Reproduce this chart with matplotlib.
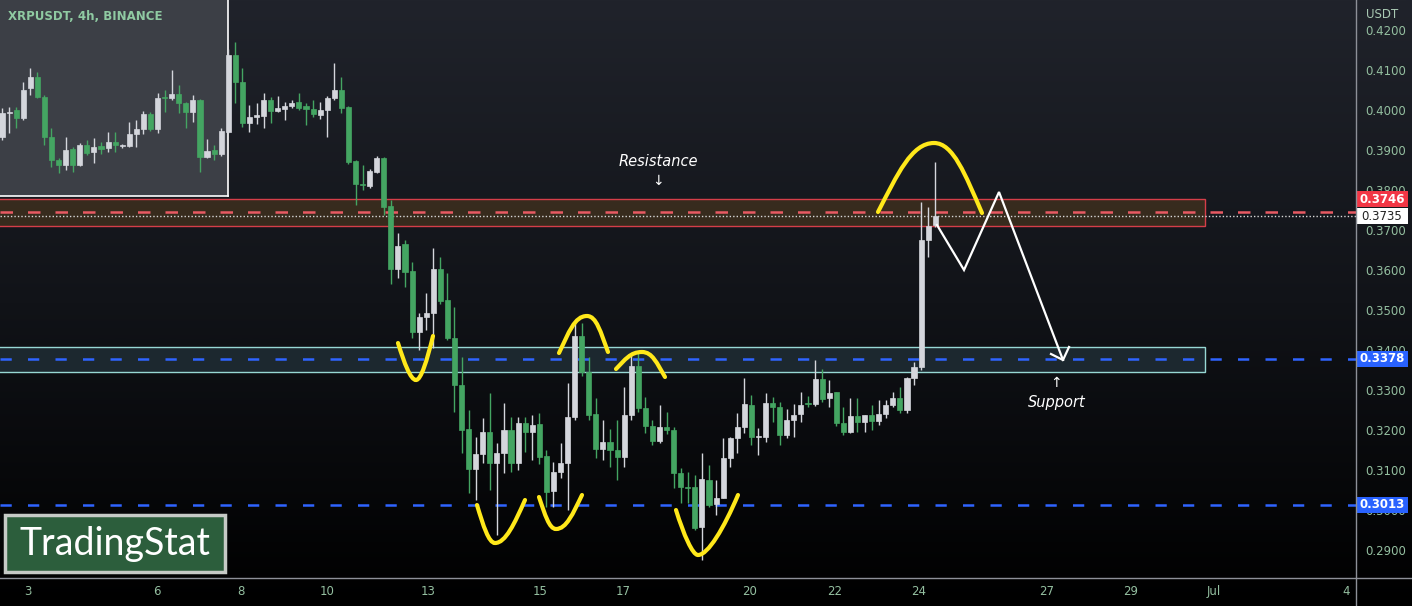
import numpy as np
import matplotlib.pyplot as plt
from matplotlib.colors import LinearSegmentedColormap
from matplotlib.patches import Rectangle, PathPatch
from matplotlib.path import Path

# 4h candles, XRPUSDT
opens = [.3933, .3993, .4000, .3980, .4055, .4083, .4033, .3933, .3875, .3863,
         .3903, .3863, .3913, .3895, .3910, .3905, .3920, .3910, .3910, .3940,
         .3953, .3990, .3953, .4033, .4030, .4040, .4018, .3995, .4025, .3883,
         .3900, .3890, .3945, .4138, .4070, .3968, .3983, .3985, .4025, .3998,
         .4003, .4010, .4020, .4010, .4003, .3988, .4000, .4030, .4050, .4008,
         .3873, .3815, .3810, .3845, .3880, .3760, .3603, .3665, .3598, .3445,
         .3483, .3493, .3603, .3525, .3430, .3313, .3203, .3103, .3140, .3195,
         .3118, .3143, .3200, .3118, .3218, .3195, .3215, .3135, .3048, .3095,
         .3118, .3233, .3435, .3345, .3240, .3153, .3170, .3150, .3133, .3238,
         .3360, .3255, .3210, .3173, .3208, .3200, .3093, .3058, .3058, .2958,
         .3075, .3015, .3030, .3130, .3180, .3208, .3263, .3183, .3183, .3268,
         .3258, .3188, .3225, .3240, .3268, .3265, .3328, .3280, .3295, .3218,
         .3195, .3235, .3220, .3238, .3223, .3240, .3263, .3280, .3250, .3330,
         .3358, .3675, .3713]
closes = [.3993, .3995, .3980, .4050, .4083, .4033, .3933, .3875, .3863, .3900,
          .3863, .3913, .3893, .3908, .3903, .3920, .3913, .3911, .3940, .3953,
          .3990, .3953, .4030, .4030, .4040, .4018, .3995, .4025, .3883, .3898,
          .3890, .3948, .4138, .4070, .3968, .3983, .3988, .4025, .3998, .4005,
          .4010, .4018, .4005, .4003, .3990, .4000, .4030, .4050, .4005, .3870,
          .3815, .3813, .3848, .3880, .3758, .3603, .3660, .3595, .3445, .3483,
          .3493, .3603, .3523, .3430, .3313, .3200, .3103, .3140, .3195, .3118,
          .3143, .3200, .3118, .3218, .3195, .3213, .3133, .3045, .3095, .3118,
          .3233, .3435, .3345, .3238, .3153, .3170, .3150, .3133, .3238, .3360,
          .3255, .3210, .3173, .3208, .3200, .3093, .3058, .3055, .2955, .3078,
          .3013, .3030, .3130, .3180, .3208, .3265, .3183, .3185, .3268, .3258,
          .3188, .3225, .3238, .3263, .3265, .3328, .3278, .3293, .3218, .3195,
          .3235, .3220, .3238, .3223, .3240, .3263, .3280, .3250, .3330, .3358,
          .3675, .3710, .3735]
highs = [.4005, .4008, .4008, .4070, .4105, .4095, .4038, .3955, .3880, .3933,
         .3908, .3918, .3925, .3930, .3920, .3945, .3945, .3915, .3970, .3975,
         .3998, .3995, .4043, .4050, .4100, .4063, .4020, .4038, .4028, .3928,
         .3913, .3955, .4153, .4170, .4105, .4013, .4018, .4043, .4033, .4035,
         .4020, .4025, .4043, .4018, .4025, .4020, .4035, .4118, .4083, .4010,
         .3875, .3863, .3853, .3885, .3883, .3775, .3693, .3675, .3620, .3493,
         .3543, .3655, .3633, .3593, .3508, .3383, .3250, .3183, .3230, .3293,
         .3168, .3268, .3233, .3233, .3233, .3238, .3243, .3150, .3120, .3168,
         .3318, .3468, .3468, .3383, .3280, .3225, .3203, .3225, .3308, .3393,
         .3393, .3283, .3225, .3263, .3245, .3208, .3105, .3095, .3088, .3143,
         .3113, .3075, .3180, .3183, .3243, .3330, .3288, .3205, .3293, .3283,
         .3270, .3253, .3265, .3295, .3285, .3375, .3353, .3325, .3295, .3258,
         .3280, .3280, .3238, .3263, .3275, .3275, .3295, .3308, .3333, .3370,
         .3770, .3758, .3870]
lows = [.3925, .3943, .3955, .3975, .4038, .4030, .3913, .3858, .3843, .3850,
        .3845, .3860, .3888, .3868, .3890, .3895, .3895, .3905, .3908, .3908,
        .3940, .3948, .3943, .3995, .4025, .3993, .3955, .3970, .3845, .3880,
        .3875, .3885, .3943, .4018, .3958, .3945, .3965, .3955, .3968, .3995,
        .3975, .4005, .4000, .3963, .3983, .3978, .3933, .4025, .3993, .3865,
        .3763, .3800, .3805, .3843, .3738, .3565, .3580, .3558, .3430, .3400,
        .3450, .3405, .3515, .3425, .3245, .3143, .3043, .3025, .3118, .3050,
        .2938, .3093, .3095, .3100, .3145, .3125, .3115, .3008, .3008, .3080,
        .3000, .3225, .3335, .3225, .3130, .3125, .3108, .3075, .3108, .3225,
        .3245, .3193, .3163, .3168, .3190, .3055, .3018, .3018, .2950, .2875,
        .3008, .2988, .3030, .3108, .3143, .3193, .3163, .3138, .3170, .3220,
        .3163, .3180, .3183, .3220, .3258, .3260, .3270, .3258, .3210, .3188,
        .3193, .3195, .3195, .3200, .3213, .3230, .3258, .3243, .3243, .3313,
        .3350, .3633, .3708]

# date labels on the time axis (bar positions of the labels)
day_labels = ['3', '6', '8', '10', '13', '15', '17', '20', '22', '24', '27', '29', 'Jul', '4']
day_pos = [3.7, 21.9, 33.8, 46.0, 60.3, 76.1, 87.8, 105.8, 117.8, 129.7, 147.8, 159.7, 171.4, 190.1]
price_ticks = np.round(np.arange(0.29, 0.4201, 0.01), 2)

resistance = (0.3710, 0.37775)
support = (0.3345, 0.34075)
red_level = 0.3746
last_price = 0.3735
blue_levels = [0.3378, 0.3013]

W, H = 1412, 606
txt_col = '#94bfa0'
up_col = '#d4d6dc'
down_col = '#44a562'

fig = plt.figure(figsize=(W / 100, H / 100), dpi=100)

# background gradient
bg = fig.add_axes([0, 0, 1, 1])
bg.axis('off')
cmap = LinearSegmentedColormap.from_list('bg', ['#20232b', '#111318', '#000000'])
bg.imshow(np.linspace(0, 1, 256).reshape(-1, 1), aspect='auto', cmap=cmap, extent=[0, 1, 0, 1])

ax = fig.add_axes([0, 28 / H, 1356 / W, 578 / H])
ax.patch.set_alpha(0)
step = 7.07
ax.set_xlim(-2 / step, (1356 - 2) / step)
ax.set_ylim(0.283, 0.4275)
for s in ax.spines.values():
    s.set_visible(False)

# grey inset in the top-left corner
ax.add_patch(Rectangle((0, (578 - 196) / 578), 228 / 1356, 1, transform=ax.transAxes,
                       fc='#3c3f46', ec='none', zorder=0))
ax.plot([228 / 1356, 228 / 1356], [(578 - 196) / 578, 1], transform=ax.transAxes, color='white', lw=1.2, zorder=0.5)
ax.plot([0, 228 / 1356], [(578 - 196) / 578] * 2, transform=ax.transAxes, color='white', lw=1.2, zorder=0.5)

# zones
ax.add_patch(Rectangle((-5, resistance[0]), 175.2, resistance[1] - resistance[0],
                       fc='#3a2d1e', ec='#e0404c', lw=1, alpha=0.95, zorder=1))
ax.add_patch(Rectangle((-5, support[0]), 175.2, support[1] - support[0],
                       fc='#1d2a31', ec='#9fe3df', lw=1, alpha=0.95, zorder=1))
ax.axhline(red_level, color='#e85a63', lw=1.8, dashes=(5, 6), zorder=1.5)
ax.axhline(last_price, color='#d8d8d8', lw=1, ls=(0, (1, 1.5)), zorder=1.5)
for lv in blue_levels:
    ax.axhline(lv, color='#2f64ff', lw=1.8, dashes=(4.5, 6.5), zorder=1.5)

# candles
o = np.array(opens)
c = np.array(closes)
idx = np.arange(len(o))
cols = [up_col if cc >= oo else down_col for oo, cc in zip(o, c)]
ax.vlines(idx, lows, highs, colors=cols, lw=1, zorder=2)
ax.bar(idx, np.maximum(np.abs(c - o), 0.0003), bottom=np.minimum(o, c), width=0.72,
       color=cols, edgecolor=cols, lw=0.5, zorder=3)

# axes ticks
ax.yaxis.tick_right()
ax.set_yticks(price_ticks)
ax.set_yticklabels([f'{v:.4f}' for v in price_ticks])
ax.set_xticks(day_pos)
ax.set_xticklabels(day_labels)
ax.tick_params(axis='y', length=0, pad=7, labelsize=8.5, labelcolor=txt_col)
ax.tick_params(axis='x', length=0, pad=5, labelsize=8.5, labelcolor=txt_col)
ax.text(1 + 10 / 1356, 0.424, 'USDT', transform=ax.get_yaxis_transform(), color='#a9c9b3',
        fontsize=8.5, va='center', ha='left', clip_on=False)

# price tags on the scale
def tag(price, label, fc, tc, weight='bold'):
    h = 0.004
    ax.add_patch(Rectangle((1.0, price - h / 2), 52 / 1356, h, transform=ax.get_yaxis_transform(),
                           fc=fc, ec='none', clip_on=False, zorder=10))
    ax.text(1 + 26 / 1356, price, label, transform=ax.get_yaxis_transform(), color=tc,
            fontsize=8.5, fontweight=weight, ha='center', va='center', clip_on=False, zorder=11)

tag(red_level + 0.0031, f'{red_level:.4f}', '#f23645', 'white')
tag(last_price, f'{last_price:.4f}', 'white', '#222222', weight='normal')
for lv in blue_levels:
    tag(lv, f'{lv:.4f}', '#2962ff', 'white')

# overlay in pixel coordinates for the hand drawings
ov = fig.add_axes([0, 0, 1, 1], zorder=5)
ov.set_xlim(0, W)
ov.set_ylim(H, 0)
ov.axis('off')
ov.patch.set_alpha(0)

ov.plot([0, W], [578, 578], color='#8d9098', lw=1)
ov.plot([1356, 1356], [0, H], color='#8d9098', lw=1)

ov.text(8, 16, 'XRPUSDT, 4h, BINANCE', color='#8fcaa2', fontsize=8.5, fontweight='bold', va='center')


def bump(p0, pm, p2, r=0.45):
    (x0, y0), (xm, ym), (x2, y2) = p0, pm, p2
    verts = [p0,
             (x0 + (xm - x0) * 0.35, y0 + (ym - y0) * 0.55), (xm - (xm - x0) * r, ym), pm,
             (xm + (x2 - xm) * r, ym), (x2 - (x2 - xm) * 0.35, y2 + (ym - y2) * 0.55), p2]
    codes = [Path.MOVETO] + [Path.CURVE4] * 6
    ov.add_patch(PathPatch(Path(verts, codes), fc='none', ec='#ffe81a', lw=3, capstyle='round'))


bump((398, 343), (416, 380), (433, 336), r=0.3)
bump((477, 505), (495, 543), (525, 500), r=0.35)
bump((539, 497), (556, 529), (582, 495), r=0.4)
bump((559, 353), (587, 316), (608, 352), r=0.45)
bump((616, 369), (642, 352), (665, 377), r=0.45)
bump((676, 510), (698, 555), (738, 495), r=0.25)
bump((878, 212), (934, 143), (982, 213), r=0.4)

# projected path
ov.plot([937, 964, 999, 1063], [225, 270, 192, 360], color='white', lw=1.6, solid_joinstyle='miter')
ov.plot([1051, 1063, 1069], [354, 360, 347], color='white', lw=1.6)

ov.text(658, 162, 'Resistance', color='white', fontsize=10.5, style='italic', ha='center', va='center')
ov.text(658, 181, '↓', color='white', fontsize=10, ha='center', va='center')
ov.text(1057, 402, 'Support', color='white', fontsize=10.5, style='italic', ha='center', va='center')
ov.text(1056, 383, '↑', color='white', fontsize=10, ha='center', va='center')

# logo
ov.add_patch(Rectangle((5, 515), 220, 57, fc='#2c5e3c', ec='#c6cac6', lw=2.5))
ov.text(115, 544, 'TradingStat', color='white', fontsize=27, family='Lato', ha='center', va='center')

fig.savefig('out.png', dpi=100)
